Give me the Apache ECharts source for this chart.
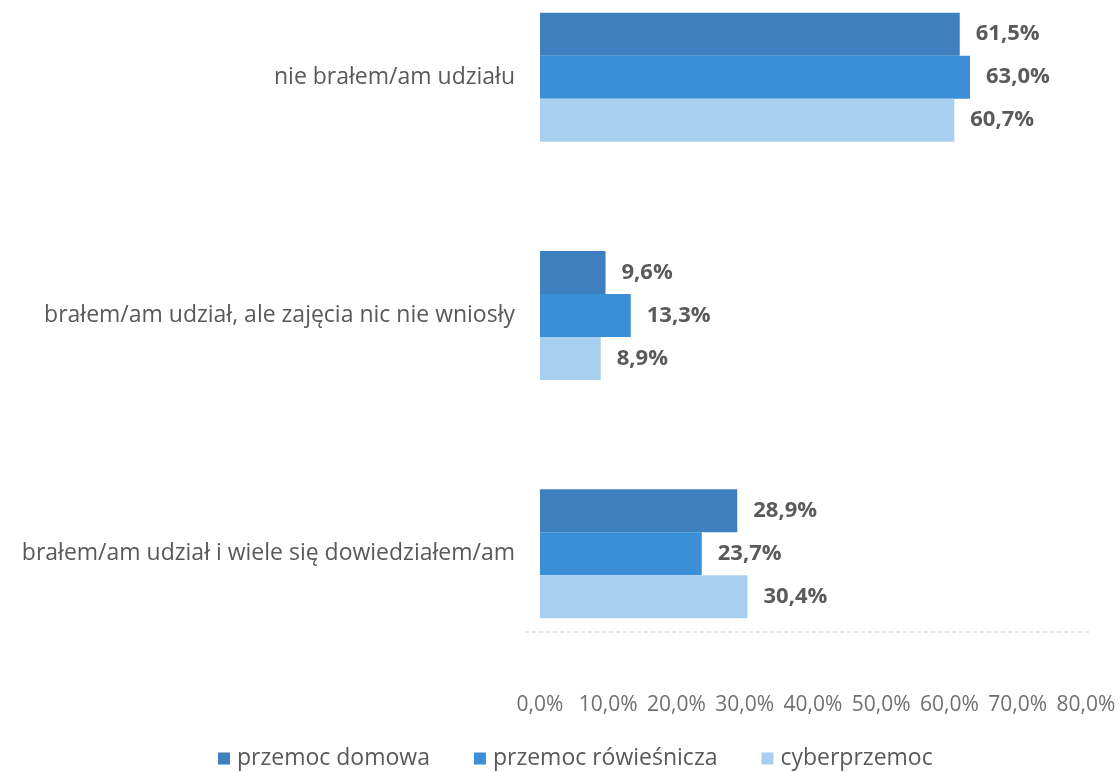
<!DOCTYPE html>
<html>
<head>
<meta charset="utf-8">
<script src="https://cdn.jsdelivr.net/npm/echarts@6/dist/echarts.min.js"></script>
<style>html,body{margin:0;padding:0;background:#fff;}#c{width:1120px;height:772px;}</style>
</head>
<body>
<div id="c"></div>
<script>
const categories = ['nie brałem/am udziału', 'brałem/am udział, ale zajęcia nic nie wniosły', 'brałem/am udział i wiele się dowiedziałem/am'];
const seriesNames = ['przemoc domowa', 'przemoc rówieśnicza', 'cyberprzemoc'];
const domowa = [61.5, 9.6, 28.9];
const rowiesnicza = [63.0, 13.3, 23.7];
const cyber = [60.7, 8.9, 30.4];
const colors = ['#3e7fbf', '#3a8fd6', '#a9cff0'];

const fmt = v => v.toFixed(1).replace('.', ',') + '%';
const chart = echarts.init(document.getElementById('c'));
const mk = (name, data, color) => ({
  name, type: 'bar', data, barWidth: 43, barGap: '0%',
  itemStyle: { color },
  label: { show: true, position: 'right', distance: 16, fontFamily: 'Open Sans', fontSize: 22, fontWeight: 'bold', color: '#5a5a5a',
    formatter: p => fmt(p.value) }
});
chart.setOption({
  backgroundColor: '#fff',
  animation: false,
  grid: { left: 540, right: 34, top: -42, height: 715, outerBoundsMode: 'none', containLabel: false },
  xAxis: { type: 'value', min: 0, max: 80, interval: 10,
    axisLine: { show: false }, axisTick: { show: false }, splitLine: { show: false },
    axisLabel: { formatter: fmt, fontFamily: 'Open Sans', fontSize: 21, color: '#707070', margin: 22 } },
  yAxis: { type: 'category', data: categories, inverse: true,
    axisLine: { show: false }, axisTick: { show: false },
    axisLabel: { fontFamily: 'Open Sans', fontSize: 23, color: '#595959', margin: 25 } },
  legend: { data: seriesNames, top: 742, left: 213, itemWidth: 12, itemHeight: 12, itemGap: 44,
    icon: 'rect', textStyle: { fontFamily: 'Open Sans', fontSize: 23, color: '#595959', padding: [0, 0, 0, 2] } },
  graphic: [{ type: 'line', shape: { x1: 525, y1: 632, x2: 1090, y2: 632 },
    style: { stroke: '#cfcfcf', lineWidth: 1, lineDash: [4, 3] } }],
  series: [mk(seriesNames[0], domowa, colors[0]), mk(seriesNames[1], rowiesnicza, colors[1]), mk(seriesNames[2], cyber, colors[2])]
});
</script>
</body>
</html>
